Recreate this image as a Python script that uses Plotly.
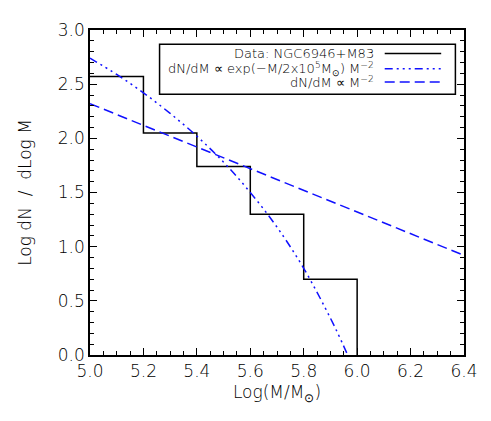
import plotly.graph_objects as go

# histogram of log dN/dlogM (NGC6946 + M83)
bin_edges = [5.0, 5.2, 5.4, 5.6, 5.8, 6.0]
log_counts = [2.57, 2.05, 1.74, 1.30, 0.70]

# exp-truncated power law
trunc_x = [5.0, 5.1, 5.2, 5.3, 5.4, 5.5, 5.6, 5.7, 5.8, 5.9, 5.95, 5.975]
trunc_y = [2.74, 2.59, 2.42, 2.23, 2.02, 1.78, 1.50, 1.18, 0.80, 0.34, 0.08, -0.06]

# pure M^-2 power law
pl_x = [5.0, 6.4]
pl_y = [2.32, 0.92]

legend_labels = [
    "Data: NGC6946+M83",
    "dN/dM ∝ exp(−M/2x10<sup>5</sup>M<sub>⊙</sub>) M<sup>−2</sup>",
    "dN/dM ∝ M<sup>−2</sup>",
]

BLUE = "#1010ff"
DASHDOT3 = "8px,4px,2px,4px,2px,4px,2px,4px"
DASHED = "10px,5px"

# step outline: horizontal over each bin, then drop to zero at the last edge
step_x = bin_edges + [bin_edges[-1]]
step_y = log_counts + [log_counts[-1], 0.0]

fig = go.Figure()
fig.add_trace(go.Scatter(x=step_x, y=step_y, mode="lines", line_shape="hv",
                         line=dict(color="black", width=1.5)))
fig.add_trace(go.Scatter(x=trunc_x, y=trunc_y, mode="lines", line_shape="spline",
                         line=dict(color=BLUE, width=1.5, dash=DASHDOT3)))
fig.add_trace(go.Scatter(x=pl_x, y=pl_y, mode="lines",
                         line=dict(color=BLUE, width=1.5, dash=DASHED)))

font = dict(family="DejaVu Sans", size=17, color="black", weight=200)
nb = "\u00a0"

axis_common = dict(showline=True, linecolor="black", linewidth=1.5, mirror="allticks",
                   ticks="inside", ticklen=7, tickwidth=1, tickcolor="black",
                   showgrid=False, zeroline=False, tickfont=font)
fig.update_xaxes(range=[5.0, 6.4], dtick=0.2, tickformat=".1f",
                 minor=dict(ticks="inside", dtick=0.05, ticklen=4, tickcolor="black"),
                 title=dict(text="Log(M/M<sub>⊙</sub>)", font=font, standoff=6),
                 **axis_common)
fig.update_yaxes(range=[0, 3.0], dtick=0.5, tickformat=".1f",
                 minor=dict(ticks="inside", dtick=0.1, ticklen=4, tickcolor="black"),
                 title=dict(text=f"Log dN{nb}{nb}/{nb}{nb}dLog M", font=font, standoff=22),
                 **axis_common)

# legend box drawn by hand: text right-aligned, line sample on the right
fig.add_shape(type="rect", xref="paper", yref="paper", x0=0.186, x1=0.977, y0=0.802, y1=0.956,
              line=dict(color="black", width=1.5), fillcolor="white", layer="above")
rows_y = [0.928, 0.881, 0.840]
styles = [dict(color="black", width=1.5), dict(color=BLUE, width=1.5, dash=DASHDOT3),
          dict(color=BLUE, width=1.5, dash=DASHED)]
for label, yy, st in zip(legend_labels, rows_y, styles):
    fig.add_annotation(x=0.764, y=yy, xref="paper", yref="paper", text=label, showarrow=False,
                       xanchor="right", yanchor="middle",
                       font=dict(family="DejaVu Sans", size=13, color="black", weight=200))
    fig.add_shape(type="line", xref="paper", yref="paper", x0=0.788, x1=0.939, y0=yy, y1=yy,
                  line=st, layer="above")

fig.update_layout(width=491, height=421, showlegend=False,
                  margin=dict(l=82, r=35, t=19, b=74),
                  plot_bgcolor="white", paper_bgcolor="white", font=font)

fig.write_html("out.html")
